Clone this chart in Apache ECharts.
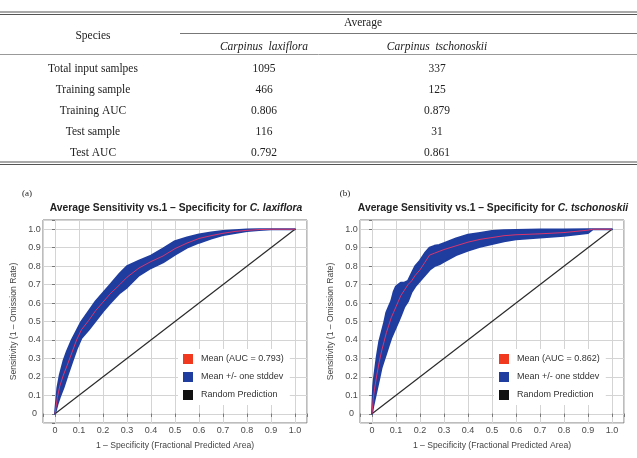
<!DOCTYPE html>
<html>
<head>
<meta charset="utf-8">
<script src="https://cdn.jsdelivr.net/npm/echarts@6/dist/echarts.min.js"></script>
<style>
  html, body { margin: 0; padding: 0; background: #fff; }
  #main { width: 637px; height: 458px; }
</style>
</head>
<body>
<div id="main"></div>
<script>
// table
const tableRows = ['Total input samlpes', 'Training sample', 'Training AUC', 'Test sample', 'Test AUC']
const laxValues = ['1095', '466', '0.806', '116', '0.792']
const tschValues = ['337', '125', '0.879', '31', '0.861']

// (a) C. laxiflora
const laxX = [0, 0.01, 0.02, 0.035, 0.05, 0.07, 0.09, 0.11, 0.14, 0.17, 0.2, 0.23, 0.27, 0.3, 0.35, 0.4, 0.45, 0.5, 0.55, 0.6, 0.65, 0.7, 0.75, 0.8, 0.85, 0.9, 1.0]
const laxMean = [0, 0.09, 0.15, 0.21, 0.26, 0.33, 0.40, 0.455, 0.505, 0.56, 0.605, 0.65, 0.70, 0.74, 0.79, 0.825, 0.855, 0.895, 0.925, 0.95, 0.965, 0.978, 0.988, 0.994, 0.998, 1.0, 1.0]
const laxLow = [0, 0.05, 0.09, 0.14, 0.20, 0.275, 0.35, 0.41, 0.455, 0.505, 0.555, 0.60, 0.655, 0.685, 0.75, 0.79, 0.82, 0.862, 0.90, 0.927, 0.95, 0.968, 0.98, 0.99, 0.996, 1.0, 1.0]
const laxHigh = [0, 0.14, 0.21, 0.285, 0.34, 0.40, 0.45, 0.50, 0.555, 0.61, 0.655, 0.70, 0.76, 0.80, 0.83, 0.857, 0.895, 0.935, 0.955, 0.972, 0.982, 0.99, 0.995, 0.998, 1.0, 1.0, 1.0]

// (b) C. tschonoskii
const tschX = [0, 0.005, 0.01, 0.02, 0.03, 0.04, 0.05, 0.06, 0.07, 0.08, 0.09, 0.1, 0.11, 0.12, 0.135, 0.15, 0.165, 0.18, 0.2, 0.22, 0.24, 0.26, 0.28, 0.3, 0.35, 0.4, 0.45, 0.5, 0.55, 0.6, 0.7, 0.8, 0.9, 0.92, 1.0]
const tschMean = [0, 0.08, 0.13, 0.21, 0.28, 0.34, 0.39, 0.44, 0.48, 0.52, 0.55, 0.58, 0.61, 0.64, 0.67, 0.70, 0.72, 0.75, 0.78, 0.82, 0.86, 0.87, 0.88, 0.89, 0.91, 0.93, 0.945, 0.955, 0.965, 0.97, 0.975, 0.982, 0.995, 1.0, 1.0]
const tschLow = [0, 0.04, 0.07, 0.13, 0.19, 0.25, 0.29, 0.33, 0.37, 0.41, 0.44, 0.47, 0.50, 0.53, 0.58, 0.61, 0.66, 0.69, 0.72, 0.75, 0.78, 0.80, 0.81, 0.825, 0.86, 0.885, 0.905, 0.92, 0.935, 0.945, 0.955, 0.965, 0.98, 1.0, 1.0]
const tschHigh = [0, 0.15, 0.21, 0.31, 0.39, 0.44, 0.49, 0.55, 0.58, 0.61, 0.66, 0.69, 0.70, 0.71, 0.71, 0.72, 0.76, 0.80, 0.83, 0.87, 0.90, 0.91, 0.915, 0.925, 0.95, 0.97, 0.98, 0.99, 0.995, 0.996, 0.998, 0.999, 1.0, 1.0, 1.0]

const diagonal = [[0, 0], [1, 1]]
const aucNames = ['Mean (AUC = 0.793)', 'Mean (AUC = 0.862)']

const BLUE = '#1f3d9f'
const serif = 'Liberation Serif, Times New Roman, serif'
const sans = 'Liberation Sans, Arial, sans-serif'

function fmt(v) {
  if (v < -0.001 || v > 1.001) return ''
  if (Math.abs(v) < 1e-9) return '0'
  return v.toFixed(1)
}

// mean +/- stddev band as one polygon
function bandRender(xs, lo, hi) {
  return function(params, api) {
    if (params.dataIndex !== 0) return
    const pts = []
    for (let i = 0; i < xs.length; i++) pts.push(api.coord([xs[i], hi[i]]))
    for (let i = xs.length - 1; i >= 0; i--) pts.push(api.coord([xs[i], lo[i]]))
    return {
      type: 'polygon',
      shape: { points: pts },
      style: { fill: BLUE, stroke: BLUE, lineWidth: 2, lineJoin: 'round' }
    }
  }
}

const xAxis = []
const yAxis = []
const series = []
const grids = [{ left: 43, top: 220, width: 264, height: 203 }, { left: 360, top: 220, width: 264, height: 203 }]
const sets = [
  [laxX, laxMean, laxLow, laxHigh],
  [tschX, tschMean, tschLow, tschHigh]
]

grids.forEach((g, gi) => {
  g.show = true
  g.borderColor = '#7a7a7a'
  g.borderWidth = 1
  xAxis.push({
    gridIndex: gi, type: 'value', min: -0.05, max: 1.05, splitNumber: 11, position: 'bottom',
    axisLine: { show: false },
    axisTick: { show: true, length: 3, lineStyle: { color: '#777' } },
    axisLabel: { fontSize: 9, color: '#4a4a4a', margin: 3, formatter: fmt },
    splitLine: { show: true, lineStyle: { color: '#d4d4d4' } },
    name: '1 – Specificity (Fractional Predicted Area)',
    nameLocation: 'middle', nameGap: 18,
    nameTextStyle: { fontSize: 8.6, color: '#444' }
  })
  xAxis.push({
    gridIndex: gi, type: 'value', min: -0.05, max: 1.05, splitNumber: 11, position: 'top',
    axisLine: { show: false },
    axisTick: { show: true, inside: true, length: 3, lineStyle: { color: '#777' } },
    axisLabel: { show: false },
    splitLine: { show: false }
  })
  yAxis.push({
    gridIndex: gi, type: 'value', min: -0.05, max: 1.05, splitNumber: 11, position: 'left',
    axisLine: { show: false },
    axisTick: { show: true, length: 3, lineStyle: { color: '#777' } },
    axisLabel: { fontSize: 9, color: '#4a4a4a', margin: 8.5, align: 'center', formatter: fmt },
    splitLine: { show: true, lineStyle: { color: '#d4d4d4' } },
    name: 'Sensitivity (1 – Omission Rate)',
    nameLocation: 'middle', nameGap: 25,
    nameTextStyle: { fontSize: 8.6, color: '#444' }
  })
  yAxis.push({
    gridIndex: gi, type: 'value', min: -0.05, max: 1.05, splitNumber: 11, position: 'right',
    axisLine: { show: false },
    axisTick: { show: true, inside: true, length: 3, lineStyle: { color: '#777' } },
    axisLabel: { show: false },
    splitLine: { show: false }
  })

  const [xs, mean, lo, hi] = sets[gi]
  series.push({
    type: 'custom', name: 'Mean +/- one stddev',
    xAxisIndex: gi * 2, yAxisIndex: gi * 2,
    renderItem: bandRender(xs, lo, hi),
    itemStyle: { color: BLUE },
    encode: { x: 0, y: [1, 2] },
    data: xs.map((x, i) => [x, lo[i], hi[i]]),
    z: 2
  })
  series.push({
    type: 'line', name: aucNames[gi],
    xAxisIndex: gi * 2, yAxisIndex: gi * 2,
    showSymbol: false,
    itemStyle: { color: '#f0391e' },
    lineStyle: { color: '#d8356e', width: 1 },
    data: xs.map((x, i) => [x, mean[i]]),
    z: 4
  })
  series.push({
    type: 'line', name: 'Random Prediction',
    xAxisIndex: gi * 2, yAxisIndex: gi * 2,
    showSymbol: false,
    itemStyle: { color: '#111' },
    lineStyle: { color: '#2a2a2a', width: 1.2 },
    data: diagonal,
    z: 3
  })
})

const legendBase = {
  orient: 'vertical', top: 349, padding: [5, 6, 5, 5], itemGap: 8,
  itemWidth: 10, itemHeight: 10, icon: 'rect', backgroundColor: '#fff',
  selectedMode: false,
  textStyle: { fontSize: 9, color: '#333', fontFamily: sans, padding: [0, 0, 0, 3] }
}

// table drawing
const graphic = []
function hline(y, x1, x2, w, c) {
  graphic.push({ type: 'line', shape: { x1: x1, y1: y, x2: x2, y2: y }, style: { stroke: c, lineWidth: w }, silent: true })
}
function txt(x, y, s, opts) {
  graphic.push({
    type: 'text', x: x, y: y, silent: true,
    style: Object.assign({ text: s, fill: '#222', font: '11.5px ' + serif, textAlign: 'center', textVerticalAlign: 'middle' }, opts || {})
  })
}
hline(12, 0, 637, 1.2, '#555')
hline(14.5, 0, 637, 1.2, '#555')
hline(33.5, 180, 637, 1, '#777')
hline(54.5, 0, 637, 1, '#999')
hline(162, 0, 637, 1.2, '#555')
hline(164.5, 0, 637, 1.2, '#555')
txt(363, 23, 'Average')
txt(93, 36, 'Species')
txt(264, 47, 'Carpinus  laxiflora', { font: 'italic 11.5px ' + serif })
txt(437, 47, 'Carpinus  tschonoskii', { font: 'italic 11.5px ' + serif })
tableRows.forEach((r, i) => {
  const y = 69 + i * 21
  txt(93, y, r)
  txt(264, y, laxValues[i])
  txt(437, y, tschValues[i])
})

// panel labels and titles
txt(27, 194, '(a)', { font: '9px ' + serif })
txt(345, 194, '(b)', { font: '9px ' + serif })
const titleRich = {
  b: { font: 'bold 10.3px ' + sans, fill: '#222' },
  i: { font: 'italic bold 10.3px ' + sans, fill: '#222' }
}
graphic.push({
  type: 'text', x: 176, y: 208, silent: true,
  style: { text: '{b|Average Sensitivity vs.1 – Specificity for }{i|C. laxiflora}', rich: titleRich, textAlign: 'center', textVerticalAlign: 'middle' }
})
graphic.push({
  type: 'text', x: 493, y: 208, silent: true,
  style: { text: '{b|Average Sensitivity vs.1 – Specificity for }{i|C. tschonoskii}', rich: titleRich, textAlign: 'center', textVerticalAlign: 'middle' }
})

const option = {
  animation: false,
  textStyle: { fontFamily: sans },
  grid: grids,
  xAxis: xAxis,
  yAxis: yAxis,
  legend: [
    Object.assign({}, legendBase, { left: 178, data: [aucNames[0], 'Mean +/- one stddev', 'Random Prediction'] }),
    Object.assign({}, legendBase, { left: 494, data: [aucNames[1], 'Mean +/- one stddev', 'Random Prediction'] })
  ],
  graphic: graphic,
  series: series
}

const chart = echarts.init(document.getElementById('main'))
chart.setOption(option)
</script>
</body>
</html>
